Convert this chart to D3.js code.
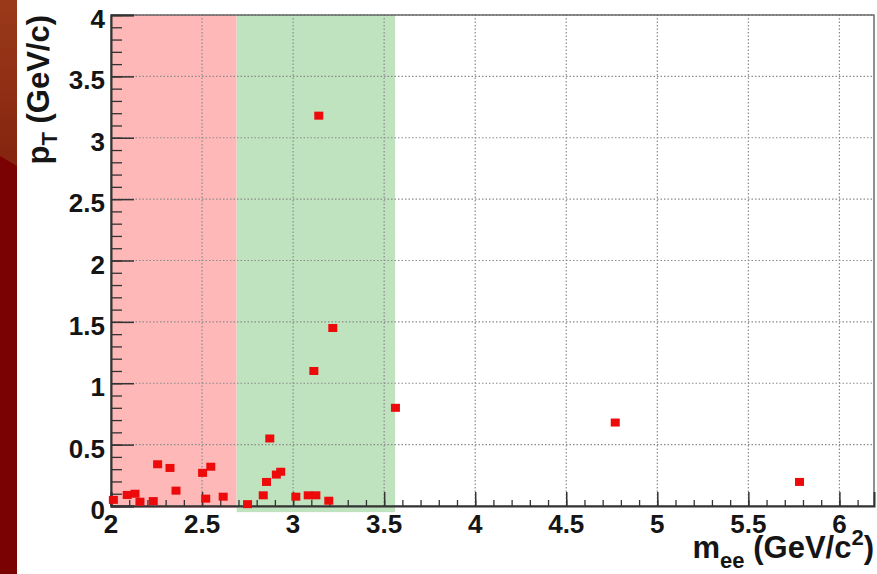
<!DOCTYPE html>
<html>
<head>
<meta charset="utf-8">
<script src="https://cdn.jsdelivr.net/npm/d3@7"></script>
<style>
  body { margin: 0; background: #fff; }
  svg { display: block; }
  .tick-label { font-family: "Liberation Sans", Arial, sans-serif; font-weight: bold; font-size: 26px; fill: #151515; }
  .title { font-family: "Liberation Sans", Arial, sans-serif; font-weight: bold; font-size: 31px; fill: #151515; }
</style>
</head>
<body>
<svg width="877" height="574"></svg>
<script>
// candidate pairs: invariant mass (GeV/c^2) and pT (GeV/c)
let massValues = [2.013, 2.089, 2.132, 2.159, 2.232, 2.256, 2.324, 2.357, 2.503, 2.520, 2.548, 2.616,
                  2.750, 2.836, 2.854, 2.872, 2.908, 2.932, 3.015, 3.083, 3.125, 3.141, 3.114, 3.196,
                  3.218, 3.562, 4.769, 5.781];
let ptValues = [0.05, 0.09, 0.10, 0.035, 0.04, 0.34, 0.31, 0.125, 0.27, 0.06, 0.32, 0.076,
                0.015, 0.087, 0.196, 0.55, 0.256, 0.279, 0.076, 0.087, 0.087, 3.18, 1.10, 0.043,
                1.45, 0.80, 0.68, 0.196];

// shaded mass windows
let sidebandRange = [2, 2.69];
let signalRange = [2.69, 3.56];

let xTicks = [2, 2.5, 3, 3.5, 4, 4.5, 5, 5.5, 6];
let yTicks = [0, 0.5, 1, 1.5, 2, 2.5, 3, 3.5, 4];
let xTickLabels = ["2", "2.5", "3", "3.5", "4", "4.5", "5", "5.5", "6"];
let yTickLabels = ["0", "0.5", "1", "1.5", "2", "2.5", "3", "3.5", "4"];

let svg = d3.select("svg");

let x = d3.scaleLinear().domain([2, 6.19]).range([111, 874]);
let y = d3.scaleLinear().domain([0, 4]).range([506, 15]);

// slide background strip on the left
let defs = svg.append("defs");
let grad = defs.append("linearGradient").attr("id", "topstrip")
    .attr("x1", 0).attr("y1", 0).attr("x2", 0).attr("y2", 1);
grad.append("stop").attr("offset", "0%").attr("stop-color", "#9a3a1a");
grad.append("stop").attr("offset", "100%").attr("stop-color", "#85240f");
svg.append("rect").attr("x", 0).attr("y", 0).attr("width", 17).attr("height", 574).attr("fill", "#7a0202");
svg.append("polygon").attr("points", "0,0 17,0 17,166 0,156").attr("fill", "url(#topstrip)");

// shaded bands (slightly below the axis, as in the original)
svg.append("rect")
    .attr("x", x(sidebandRange[0])).attr("y", y(4))
    .attr("width", x(sidebandRange[1]) - x(sidebandRange[0]))
    .attr("height", y(-0.015) - y(4))
    .attr("fill", "#ffb8b8");
svg.append("rect")
    .attr("x", x(signalRange[0])).attr("y", y(4))
    .attr("width", x(signalRange[1]) - x(signalRange[0]))
    .attr("height", y(-0.05) - y(4))
    .attr("fill", "#bfe3bf");

// dotted grid at major ticks
svg.append("g").selectAll("line").data(xTicks.slice(1)).join("line")
    .attr("x1", d => x(d)).attr("x2", d => x(d))
    .attr("y1", y(0)).attr("y2", y(4))
    .attr("stroke", "#8a8a8a").attr("stroke-width", 1.2).attr("stroke-dasharray", "1.5,2");
svg.append("g").selectAll("line").data(yTicks.slice(1)).join("line")
    .attr("x1", x(2)).attr("x2", x.range()[1])
    .attr("y1", d => y(d)).attr("y2", d => y(d))
    .attr("stroke", "#8a8a8a").attr("stroke-width", 1.2).attr("stroke-dasharray", "1.5,2");

// frame
svg.append("rect")
    .attr("x", x(2)).attr("y", y(4))
    .attr("width", x.range()[1] - x(2)).attr("height", y(0) - y(4))
    .attr("fill", "none").attr("stroke", "#555").attr("stroke-width", 1.3);

// x axis: ROOT style ticks pointing inside
let xAxis = d3.axisTop(x).tickValues(xTicks).tickSize(14).tickFormat("");
let xMinor = d3.axisTop(x).tickValues(d3.range(20, 62).map(d => d / 10)).tickSize(6).tickFormat("");
svg.append("g").attr("transform", "translate(0," + y(0) + ")").call(xMinor)
    .call(g => g.selectAll("line").attr("stroke", "#333").attr("stroke-width", 1.3))
    .call(g => g.select(".domain").remove());
svg.append("g").attr("transform", "translate(0," + y(0) + ")").call(xAxis)
    .call(g => g.selectAll("line").attr("stroke", "#333").attr("stroke-width", 1.5))
    .call(g => g.select(".domain").attr("stroke", "#333").attr("stroke-width", 2));

// y axis
let yAxis = d3.axisRight(y).tickValues(yTicks).tickSize(23).tickFormat("");
let yMinor = d3.axisRight(y).tickValues(d3.range(0, 41).map(d => d / 10)).tickSize(11).tickFormat("");
svg.append("g").attr("transform", "translate(" + x(2) + ",0)").call(yMinor)
    .call(g => g.selectAll("line").attr("stroke", "#333").attr("stroke-width", 1.3))
    .call(g => g.select(".domain").remove());
svg.append("g").attr("transform", "translate(" + x(2) + ",0)").call(yAxis)
    .call(g => g.selectAll("line").attr("stroke", "#333").attr("stroke-width", 1.5))
    .call(g => g.select(".domain").attr("stroke", "#333").attr("stroke-width", 2));

// tick labels
svg.append("g").selectAll("text").data(xTicks).join("text")
    .attr("class", "tick-label")
    .attr("x", d => x(d)).attr("y", 533)
    .attr("text-anchor", "middle")
    .text((d, i) => xTickLabels[i]);
svg.append("g").selectAll("text").data(yTicks).join("text")
    .attr("class", "tick-label")
    .attr("x", 105).attr("y", d => y(d) + 13)
    .attr("text-anchor", "end")
    .text((d, i) => yTickLabels[i]);

// data points
svg.append("g").selectAll("rect").data(massValues).join("rect")
    .attr("x", d => x(d) - 4.5)
    .attr("y", (d, i) => y(ptValues[i]) - 4)
    .attr("width", 9).attr("height", 8)
    .attr("fill", "#ec0a0a");

// axis titles
let yTitle = svg.append("text").attr("class", "title")
    .attr("transform", "translate(49,15) rotate(-90)")
    .attr("text-anchor", "end");
yTitle.append("tspan").text("p");
yTitle.append("tspan").attr("font-size", "22px").attr("dy", 8).text("T");
yTitle.append("tspan").attr("dy", -8).text(" (GeV/c)");

let xTitle = svg.append("text").attr("class", "title")
    .attr("x", 874).attr("y", 558)
    .attr("text-anchor", "end");
xTitle.append("tspan").text("m");
xTitle.append("tspan").attr("font-size", "22px").attr("dy", 10).text("ee");
xTitle.append("tspan").attr("dy", -10).text(" (GeV/c");
xTitle.append("tspan").attr("font-size", "22px").attr("dy", -13).text("2");
xTitle.append("tspan").attr("dy", 13).text(")");
</script>
</body>
</html>
